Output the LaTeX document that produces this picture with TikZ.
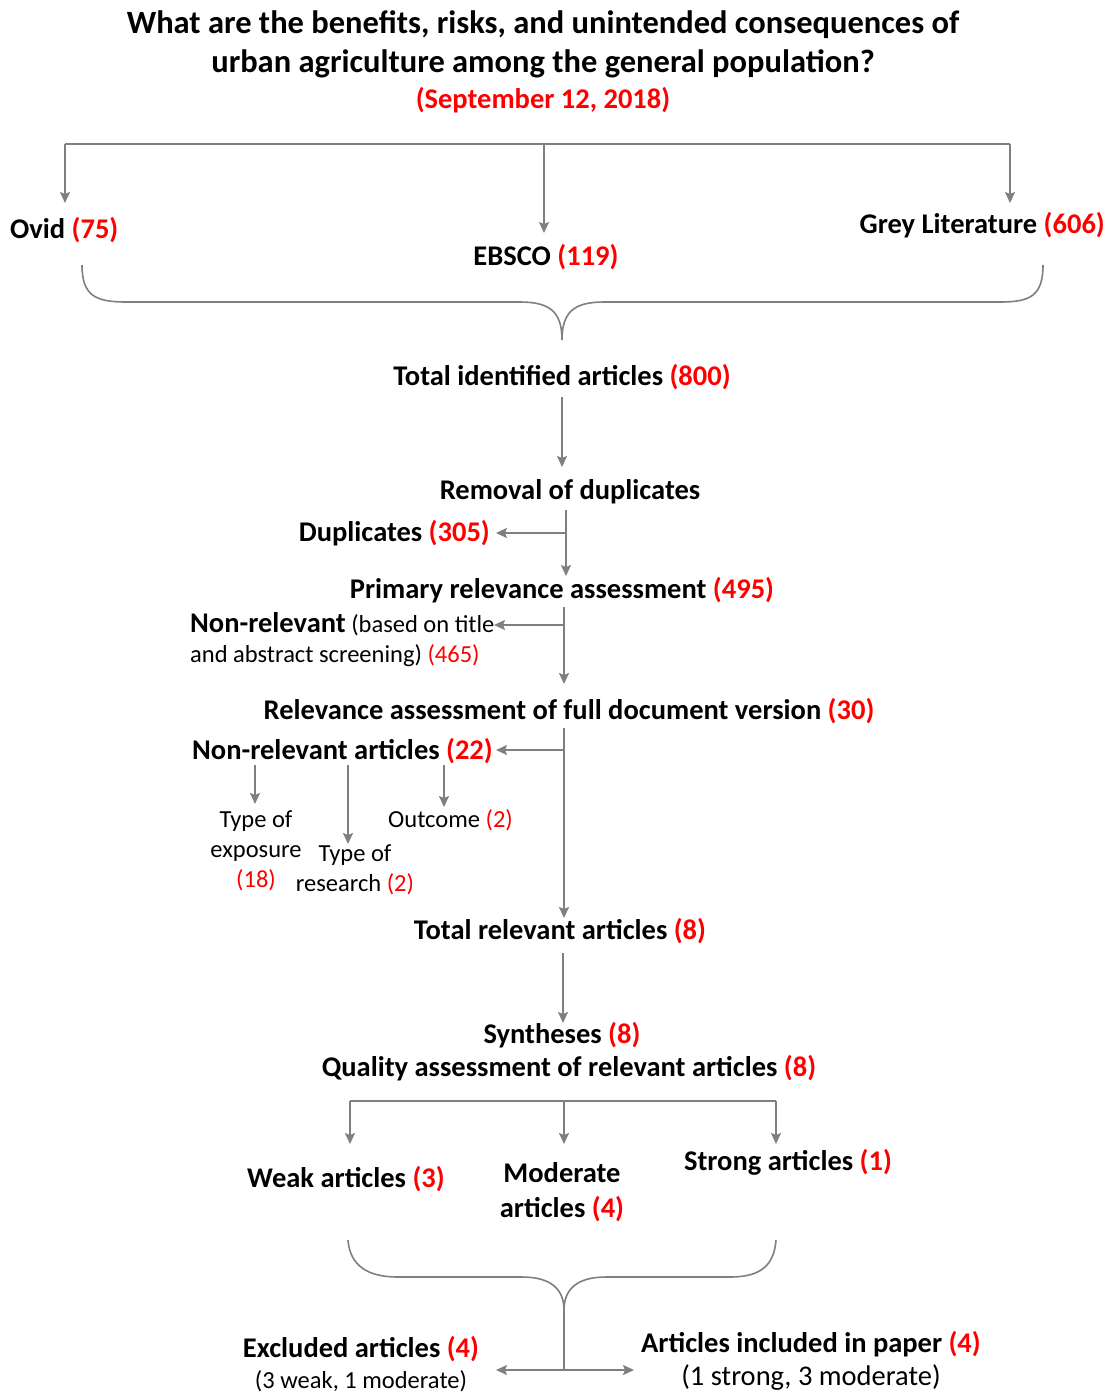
\documentclass[tikz,border=0pt]{standalone}
\usepackage{fontspec}
\setmainfont{Carlito}
\usetikzlibrary{arrows.meta}
\definecolor{lc}{HTML}{7F7F7F}
\definecolor{rd}{HTML}{FF0000}
\newcommand\rn[1]{\textcolor{rd}{(#1)}}
\tikzset{
  ln/.style={draw=lc, line width=1.6pt},
  arr/.style={ln, -{Stealth[length=11pt,width=10pt,inset=2pt]}},
  bt/.style={inner sep=0pt, font=\fontsize{28.5}{33}\selectfont\bfseries},
  st/.style={inner sep=0pt, font=\fontsize{24.5}{30}\selectfont},
}
\begin{document}
\begin{tikzpicture}[x=1pt,y=-1pt]
\useasboundingbox[fill=white] (0,0) rectangle (1110,1393);
% title
\node[inner sep=0pt, align=center, font=\fontsize{32.5}{39}\selectfont\bfseries] (title) at (543,44)
  {What are the benefits, risks, and unintended consequences of\\urban agriculture among the general population?};
\node[bt, text=rd] (date) at (543,100) {(September 12, 2018)};
% sources
\node[bt, anchor=west] (ovid) at (10,230) {Ovid \rn{75}};
\node[bt] (ebsco) at (546,257) {EBSCO \rn{119}};
\node[bt, anchor=east] (grey) at (1105,225) {Grey Literature \rn{606}};
\coordinate (barL) at (65,144);
\coordinate (barM) at (544,144);
\coordinate (barR) at (1010,144);
\coordinate (tOvid) at (65,203);
\coordinate (tEbsco) at (544,233);
\coordinate (tGrey) at (1010,203);
\draw[ln] (barL) -- (barR);
\draw[arr] (barL) -- (tOvid);
\draw[arr] (barM) -- (tEbsco);
\draw[arr] (barR) -- (tGrey);
% brace 1
\coordinate (b1L) at (82,265);
\coordinate (b1T) at (562,340);
\coordinate (b1R) at (1043,265);
\draw[ln] (b1L) .. controls (82,296) and (96,302) .. (126,302) -- (520,302)
  .. controls (550,302) and (562,312) .. (b1T)
  .. controls (562,312) and (574,302) .. (604,302) -- (1000,302)
  .. controls (1030,302) and (1043,296) .. (b1R);
\node[bt] (total) at (562,377) {Total identified articles \rn{800}};
\coordinate (a1s) at (562,397);
\coordinate (a1e) at (562,467);
\draw[arr] (a1s) -- (a1e);
\node[bt] (removal) at (570,492) {Removal of duplicates};
\node[bt, anchor=east] (dup) at (490,533) {Duplicates \rn{305}};
\coordinate (a2s) at (566,510);
\coordinate (a2e) at (566,576);
\coordinate (a2b) at (566,533);
\coordinate (a2t) at (496,533);
\draw[arr] (a2s) -- (a2e);
\draw[arr] (a2b) -- (a2t);
\node[bt] (primary) at (562,590) {Primary relevance assessment \rn{495}};
\node[st, anchor=west, align=left] (nonrel1) at (190,640)
  {{\fontsize{28.5}{30}\selectfont\bfseries Non-relevant} (based on title\\and abstract screening) \rn{465}};
\coordinate (a3s) at (564,607);
\coordinate (a3e) at (564,684);
\coordinate (a3b) at (564,625);
\coordinate (a3t) at (494,625);
\draw[arr] (a3s) -- (a3e);
\draw[arr] (a3b) -- (a3t);
\node[bt] (relfull) at (569,711) {Relevance assessment of full document version \rn{30}};
\node[bt, anchor=east] (nonrel2) at (493,751) {Non-relevant articles \rn{22}};
\coordinate (a4s) at (564,728);
\coordinate (a4e) at (564,918);
\coordinate (a4b) at (564,750);
\coordinate (a4t) at (496,750);
\draw[arr] (a4s) -- (a4e);
\draw[arr] (a4b) -- (a4t);
% sub categories
\node[st, align=center] (expo) at (256,851) {Type of\\exposure\\\rn{18}};
\node[st, align=center] (research) at (355,870) {Type of\\research \rn{2}};
\node[st, anchor=west] (outcome) at (388,820) {Outcome \rn{2}};
\coordinate (c1s) at (255,765); \coordinate (c1e) at (255,804);
\coordinate (c2s) at (348,765); \coordinate (c2e) at (348,844);
\coordinate (c3s) at (444,765); \coordinate (c3e) at (444,807);
\draw[arr] (c1s) -- (c1e);
\draw[arr] (c2s) -- (c2e);
\draw[arr] (c3s) -- (c3e);
\node[bt] (totrel) at (560,931) {Total relevant articles \rn{8}};
\coordinate (a5s) at (563,953);
\coordinate (a5e) at (563,1023);
\draw[arr] (a5s) -- (a5e);
\node[bt] (synth) at (562,1035) {Syntheses \rn{8}};
\node[bt] (quality) at (569,1068) {Quality assessment of relevant articles \rn{8}};
% bar 2
\coordinate (q1) at (350,1101);
\coordinate (q2) at (564,1101);
\coordinate (q3) at (776,1101);
\coordinate (q1e) at (350,1144);
\coordinate (q2e) at (564,1144);
\coordinate (q3e) at (776,1144);
\draw[ln] (q1) -- (q3);
\draw[arr] (q1) -- (q1e);
\draw[arr] (q2) -- (q2e);
\draw[arr] (q3) -- (q3e);
\node[bt] (weak) at (346,1179) {Weak articles \rn{3}};
\node[bt, align=center, font=\fontsize{28.5}{35}\selectfont\bfseries] (moderate) at (562,1192) {Moderate\\articles \rn{4}};
\node[bt] (strong) at (788,1162) {Strong articles \rn{1}};
% brace 2
\coordinate (b2L) at (348,1240);
\coordinate (b2T) at (564,1310);
\coordinate (b2R) at (776,1240);
\coordinate (b2S) at (564,1370);
\draw[ln] (b2L) .. controls (350,1266) and (368,1277) .. (398,1277) -- (522,1277)
  .. controls (552,1277) and (564,1290) .. (b2T)
  .. controls (564,1290) and (576,1277) .. (606,1277) -- (730,1277)
  .. controls (760,1277) and (774,1266) .. (b2R);
\draw[ln] (b2T) -- (b2S);
\coordinate (exT) at (496,1370);
\coordinate (inT) at (634,1370);
\draw[arr] (b2S) -- (exT);
\draw[arr] (b2S) -- (inT);
\node[bt] (excl) at (361,1349) {Excluded articles \rn{4}};
\node[st] (excl2) at (361,1381) {(3 weak, 1 moderate)};
\node[bt] (incl) at (811,1344) {Articles included in paper \rn{4}};
\node[st, font=\fontsize{28.5}{33}\selectfont] (incl2) at (811,1378) {(1 strong, 3 moderate)};
\end{tikzpicture}
\end{document}
